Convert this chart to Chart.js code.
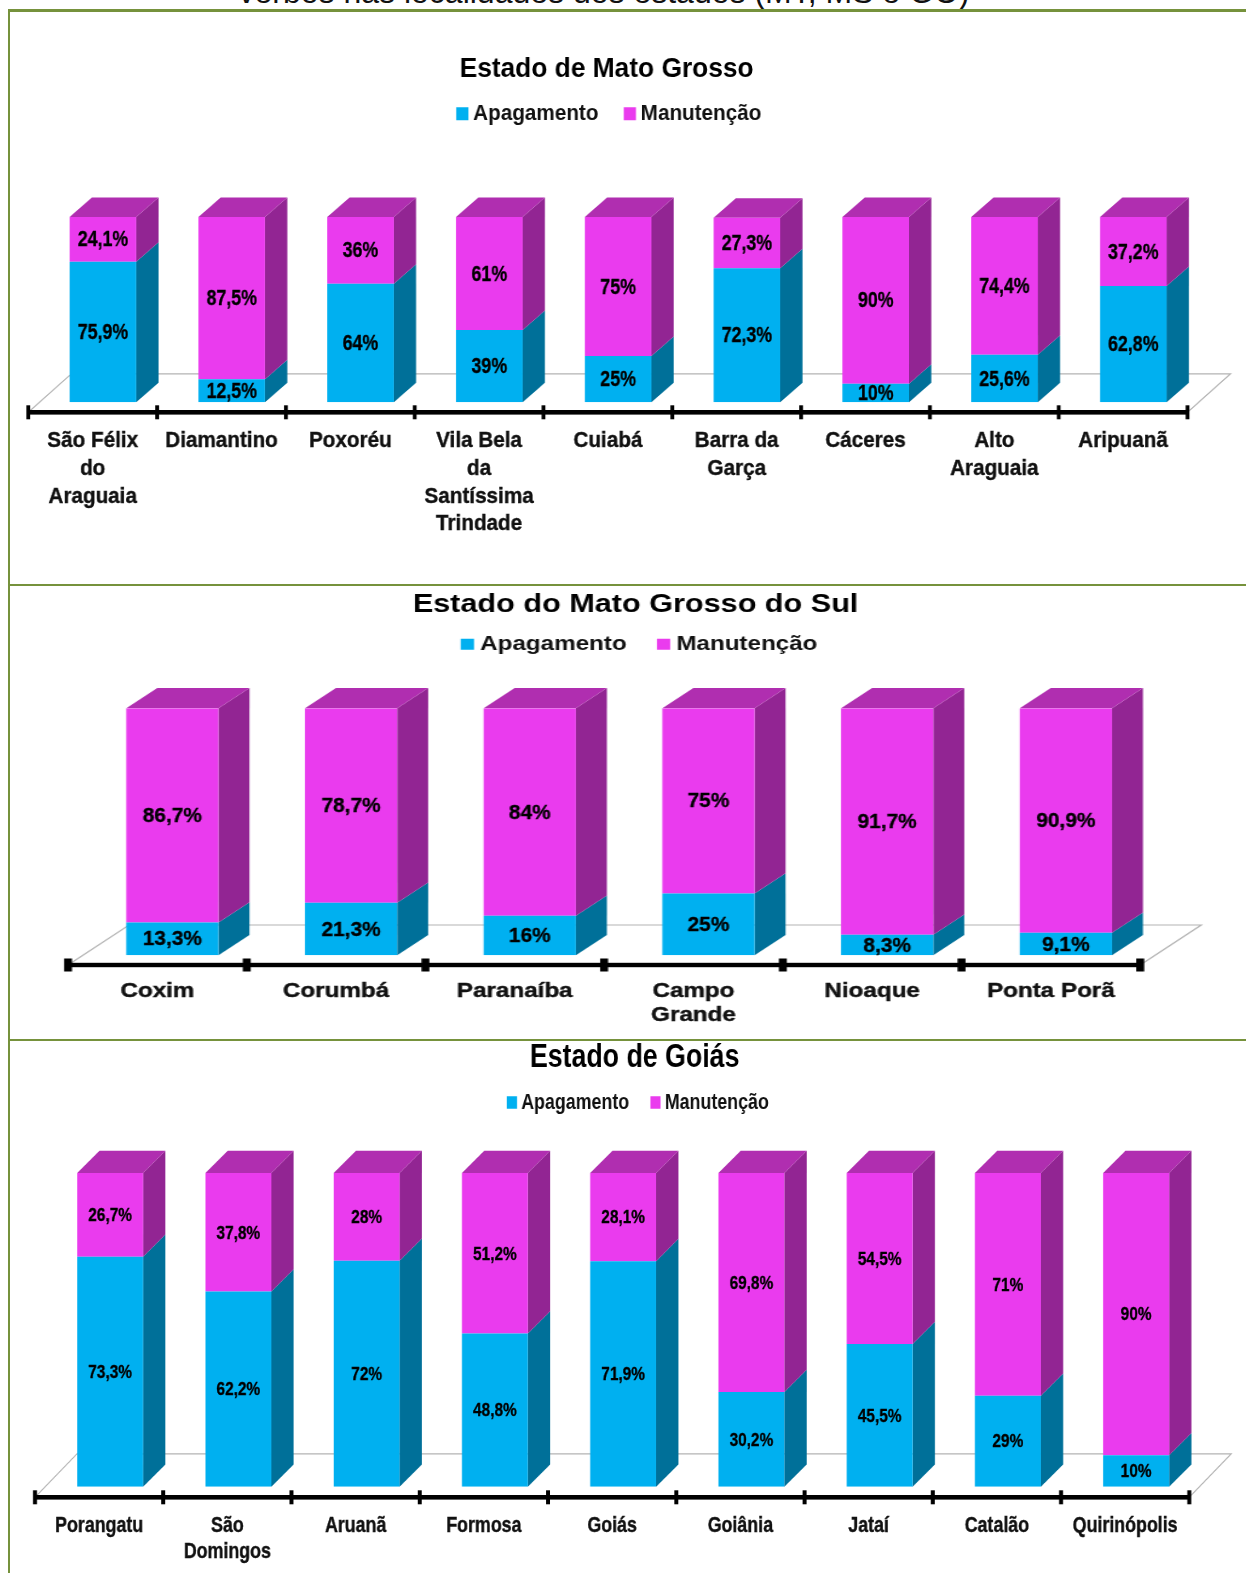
<!DOCTYPE html>
<html lang="pt">
<head>
<meta charset="utf-8">
<title>Apagamento e manutenção</title>
<script src="https://cdn.jsdelivr.net/npm/chart.js@4/dist/chart.umd.js"></script>
<style>
html,body{margin:0;padding:0;background:#fff;overflow:hidden}
#page{position:relative;width:1246px;height:1573px;overflow:hidden;background:#fff}
canvas{position:absolute;left:0;transform-origin:0 0;filter:blur(.5px)}
.rule{position:absolute;background:#76923C}
#head{position:absolute;left:0;width:1208px;top:-23px;text-align:center;font:32px/31px "Liberation Sans",Arial,sans-serif;color:#111;white-space:nowrap;height:32px;overflow:hidden}
</style>
</head>
<body>
<div id="page">
<div id="head">verbos nas localidades dos estados (MT, MS e GO)</div>
<canvas id="c1"></canvas>
<canvas id="c2"></canvas>
<canvas id="c3"></canvas>
<div class="rule" style="left:8px;top:9px;width:1238px;height:2.5px"></div>
<div class="rule" style="left:8px;top:584px;width:1238px;height:2.2px"></div>
<div class="rule" style="left:8px;top:1039px;width:1238px;height:2.2px"></div>
<div class="rule" style="left:8px;top:9px;width:2.2px;height:1564px"></div>
</div>
<script>
const seriesNames = ['Apagamento', 'Manutenção'];

const mtTitle = 'Estado de Mato Grosso';
const mtCategories = [['São Félix','do','Araguaia'],'Diamantino','Poxoréu',['Vila Bela','da','Santíssima','Trindade'],'Cuiabá',['Barra da','Garça'],'Cáceres',['Alto','Araguaia'],'Aripuanã'];
const mtApagamento = [75.9, 12.5, 64, 39, 25, 72.3, 10, 25.6, 62.8];
const mtManutencao = [24.1, 87.5, 36, 61, 75, 27.3, 90, 74.4, 37.2];

const msTitle = 'Estado do Mato Grosso do Sul';
const msCategories = ['Coxim','Corumbá','Paranaíba',['Campo','Grande'],'Nioaque','Ponta Porã'];
const msApagamento = [13.3, 21.3, 16, 25, 8.3, 9.1];
const msManutencao = [86.7, 78.7, 84, 75, 91.7, 90.9];

const goTitle = 'Estado de Goiás';
const goCategories = ['Porangatu',['São','Domingos'],'Aruanã','Formosa','Goiás','Goiânia','Jataí','Catalão','Quirinópolis'];
const goApagamento = [73.3, 62.2, 72, 48.8, 71.9, 30.2, 45.5, 29, 10];
const goManutencao = [26.7, 37.8, 28, 51.2, 28.1, 69.8, 54.5, 71, 90];

const frontColors = ['#00B0F0', '#EA3BEE'];
const sideColors = ['#007099', '#922593'];
const topColor = '#B02EB0';
const floorColor = '#B4B4B4';
const FONT = '"Liberation Sans", Arial, sans-serif';

const cube3d = {
  id: 'cube3d',
  afterLayout(chart, _a, o) {
    const t = chart.titleBlock, l = chart.legend;
    if (t) { t.left += o.titleDx / o.stretch; t.right += o.titleDx / o.stretch; }
    if (l) { l.left += o.legendDx / o.stretch; l.right += o.legendDx / o.stretch; }
  },
  beforeDatasetsDraw(chart, _a, o) {
    const c = chart.ctx, s = o.stretch;
    const step = (chart.chartArea.right - chart.chartArea.left) / chart.data.labels.length;
    const axisY = chart.chartArea.bottom + o.axisDrop;
    const x0 = chart.chartArea.left - o.tickShift / s;
    const x1 = x0 + step * chart.data.labels.length;
    const fx = o.floorDx / s, fy = o.floorDy;
    c.save();
    c.strokeStyle = floorColor; c.lineWidth = 1.2;
    c.beginPath();
    c.moveTo(x0, axisY); c.lineTo(x0 + fx, axisY + fy); c.lineTo(x1 + fx, axisY + fy); c.lineTo(x1, axisY);
    c.stroke();
    const dx = o.depthX / s, dy = o.depthY;
    chart.data.datasets.forEach((ds, d) => {
      chart.getDatasetMeta(d).data.forEach(el => {
        const r = el.x + el.width / 2, l = el.x - el.width / 2;
        c.fillStyle = sideColors[d];
        c.beginPath();
        c.moveTo(r, el.y); c.lineTo(r + dx, el.y - dy); c.lineTo(r + dx, el.base - dy); c.lineTo(r, el.base);
        c.closePath(); c.fill();
        if (d === chart.data.datasets.length - 1) {
          c.fillStyle = topColor;
          c.beginPath();
          c.moveTo(l, el.y); c.lineTo(l + dx, el.y - dy); c.lineTo(r + dx, el.y - dy); c.lineTo(r, el.y);
          c.closePath(); c.fill();
        }
      });
    });
    c.restore();
  },
  afterDatasetsDraw(chart, _a, o) {
    const c = chart.ctx, s = o.stretch;
    const n = chart.data.labels.length;
    const step = (chart.chartArea.right - chart.chartArea.left) / n;
    const axisY = chart.chartArea.bottom + o.axisDrop;
    const x0 = chart.chartArea.left - o.tickShift / s;
    c.save();
    c.fillStyle = '#000';
    c.fillRect(x0, axisY - o.axisH / 2, step * n, o.axisH);
    const tw = o.tickW / s;
    for (let i = 0; i <= n; i++) c.fillRect(x0 + step * i - tw / 2, axisY - o.tickH / 2, tw, o.tickH);
    c.font = 'bold ' + o.labelSize + 'px ' + FONT;
    c.textAlign = 'center'; c.textBaseline = 'middle';
    c.strokeStyle = '#000'; c.lineWidth = 0.35; c.lineJoin = 'round';
    chart.data.datasets.forEach((ds, d) => {
      chart.getDatasetMeta(d).data.forEach((el, i) => {
        const txt = String(ds.data[i]).replace('.', ',') + '%';
        c.save();
        c.translate(el.x, (el.y + el.base) / 2 + 1);
        c.scale(o.labelK, 1);
        c.fillText(txt, 0, 0);
        c.strokeText(txt, 0, 0);
        c.restore();
      });
    });
    c.restore();
  }
};

function build(id, g) {
  const cv = document.getElementById(id);
  const W = Math.round(1246 / g.s);
  cv.width = W; cv.height = g.H;
  cv.style.top = g.top + 'px';
  cv.style.transform = 'scaleX(' + g.s + ')';
  const left = (g.tick0 + g.shift) / g.s;
  const right = (g.tick0 + g.shift + g.step * g.cats.length) / g.s;
  const chart = new Chart(cv, {
    type: 'bar',
    plugins: [cube3d],
    data: {
      labels: g.cats,
      datasets: [
        { label: seriesNames[0], data: g.a, backgroundColor: frontColors[0], borderWidth: 0, stack: 's' },
        { label: seriesNames[1], data: g.m, backgroundColor: frontColors[1], borderWidth: 0, stack: 's' }
      ]
    },
    options: {
      responsive: false, animation: false, events: [],
      layout: { padding: { left, right: W - right, top: 0, bottom: 0 } },
      datasets: { bar: { barPercentage: g.barPct, categoryPercentage: 1 } },
      scales: {
        x: {
          stacked: true, grid: { display: false, drawTicks: false }, border: { display: false },
          afterFit(sc) { sc.height = g.top + g.H - g.base; },
          ticks: {
            autoSkip: false, maxRotation: 0, minRotation: 0, color: '#111',
            textStrokeColor: '#111', textStrokeWidth: 0.4,
            padding: g.tickPad, labelOffset: -g.shift / g.s,
            font: { family: FONT, weight: 'bold', size: g.tickSize, lineHeight: g.tickLH }
          }
        },
        y: { stacked: true, display: false, min: 0, max: 100 }
      },
      plugins: {
        tooltip: { enabled: false },
        title: {
          display: true, text: g.title, color: '#000', align: 'center',
          font: { family: FONT, weight: 'bold', size: g.titleSize, lineHeight: 1.2 },
          padding: { top: g.titleTop, bottom: g.titleBottom }
        },
        legend: {
          display: true, position: 'top', align: 'center',
          labels: {
            usePointStyle: true, pointStyle: 'rect', boxWidth: 1, boxHeight: g.markH,
            color: '#111', padding: g.legPad,
            font: { family: FONT, weight: 'bold', size: g.legSize }
          }
        },
        subtitle: { display: true, text: '', weight: 500, font: { size: 1, lineHeight: 1 }, padding: { top: 0, bottom: 4 } },
        cube3d: {
          stretch: g.s, axisDrop: g.drop, tickShift: g.shift,
          floorDx: g.fdx, floorDy: g.fdy, depthX: g.dx, depthY: g.dy,
          axisH: g.axisH, tickW: g.tickW, tickH: g.tickH, labelSize: g.labelSize, labelK: g.labelK,
          titleDx: g.titleDx, legendDx: g.legendDx
        }
      }
    }
  });
  const wanted = g.areaTop - g.top;
  chart.options.plugins.subtitle.padding = { top: 0, bottom: 4 + wanted - chart.chartArea.top };
  chart.update();
  return chart;
}

build('c1', {
  cats: mtCategories, a: mtApagamento, m: mtManutencao, title: mtTitle,
  s: 0.94, top: 11, H: 573, base: 402.3, areaTop: 217,
  tick0: 28.3, step: 128.8, shift: 10.2, barPct: 0.517, drop: 10,
  fdx: 43, fdy: -38.5, dx: 22.3, dy: 19.5, axisH: 4.6, tickW: 3.8, tickH: 14,
  tickSize: 22, tickLH: 1.26, tickPad: 25,
  titleSize: 28, titleTop: 41.6, titleBottom: -16.4, titleDx: -11.5, legendDx: -6.5,
  legSize: 22, legPad: 33, markH: 13,
  labelSize: 22, labelK: 0.86
});
build('c2', {
  cats: msCategories, a: msApagamento, m: msManutencao, title: msTitle,
  s: 1.21, top: 586, H: 453, base: 955.3, areaTop: 708.3,
  tick0: 68, step: 178.7, shift: 15, barPct: 0.516, drop: 9.7,
  fdx: 61, fdy: -40, dx: 31, dy: 20.3, axisH: 4.4, tickW: 8, tickH: 13,
  tickSize: 20, tickLH: 1.22, tickPad: 24,
  titleSize: 25.3, titleTop: 4, titleBottom: -16, titleDx: 16.5, legendDx: 23,
  legSize: 20, legPad: 30, markH: 11,
  labelSize: 20, labelK: 0.86
});
build('c3', {
  cats: goCategories, a: goApagamento, m: goManutencao, title: goTitle,
  s: 0.81, top: 1041, H: 532, base: 1486.7, areaTop: 1173,
  tick0: 35, step: 128.25, shift: 11, barPct: 0.514, drop: 10.6,
  fdx: 42, fdy: -43.5, dx: 22.3, dy: 22.3, axisH: 4.6, tickW: 4, tickH: 14,
  tickSize: 22, tickLH: 1.2, tickPad: 26,
  titleSize: 33, titleTop: -3, titleBottom: -18, titleDx: 11.5, legendDx: 17,
  legSize: 22, legPad: 32, markH: 12.5,
  labelSize: 19, labelK: 1
});
</script>
</body>
</html>
